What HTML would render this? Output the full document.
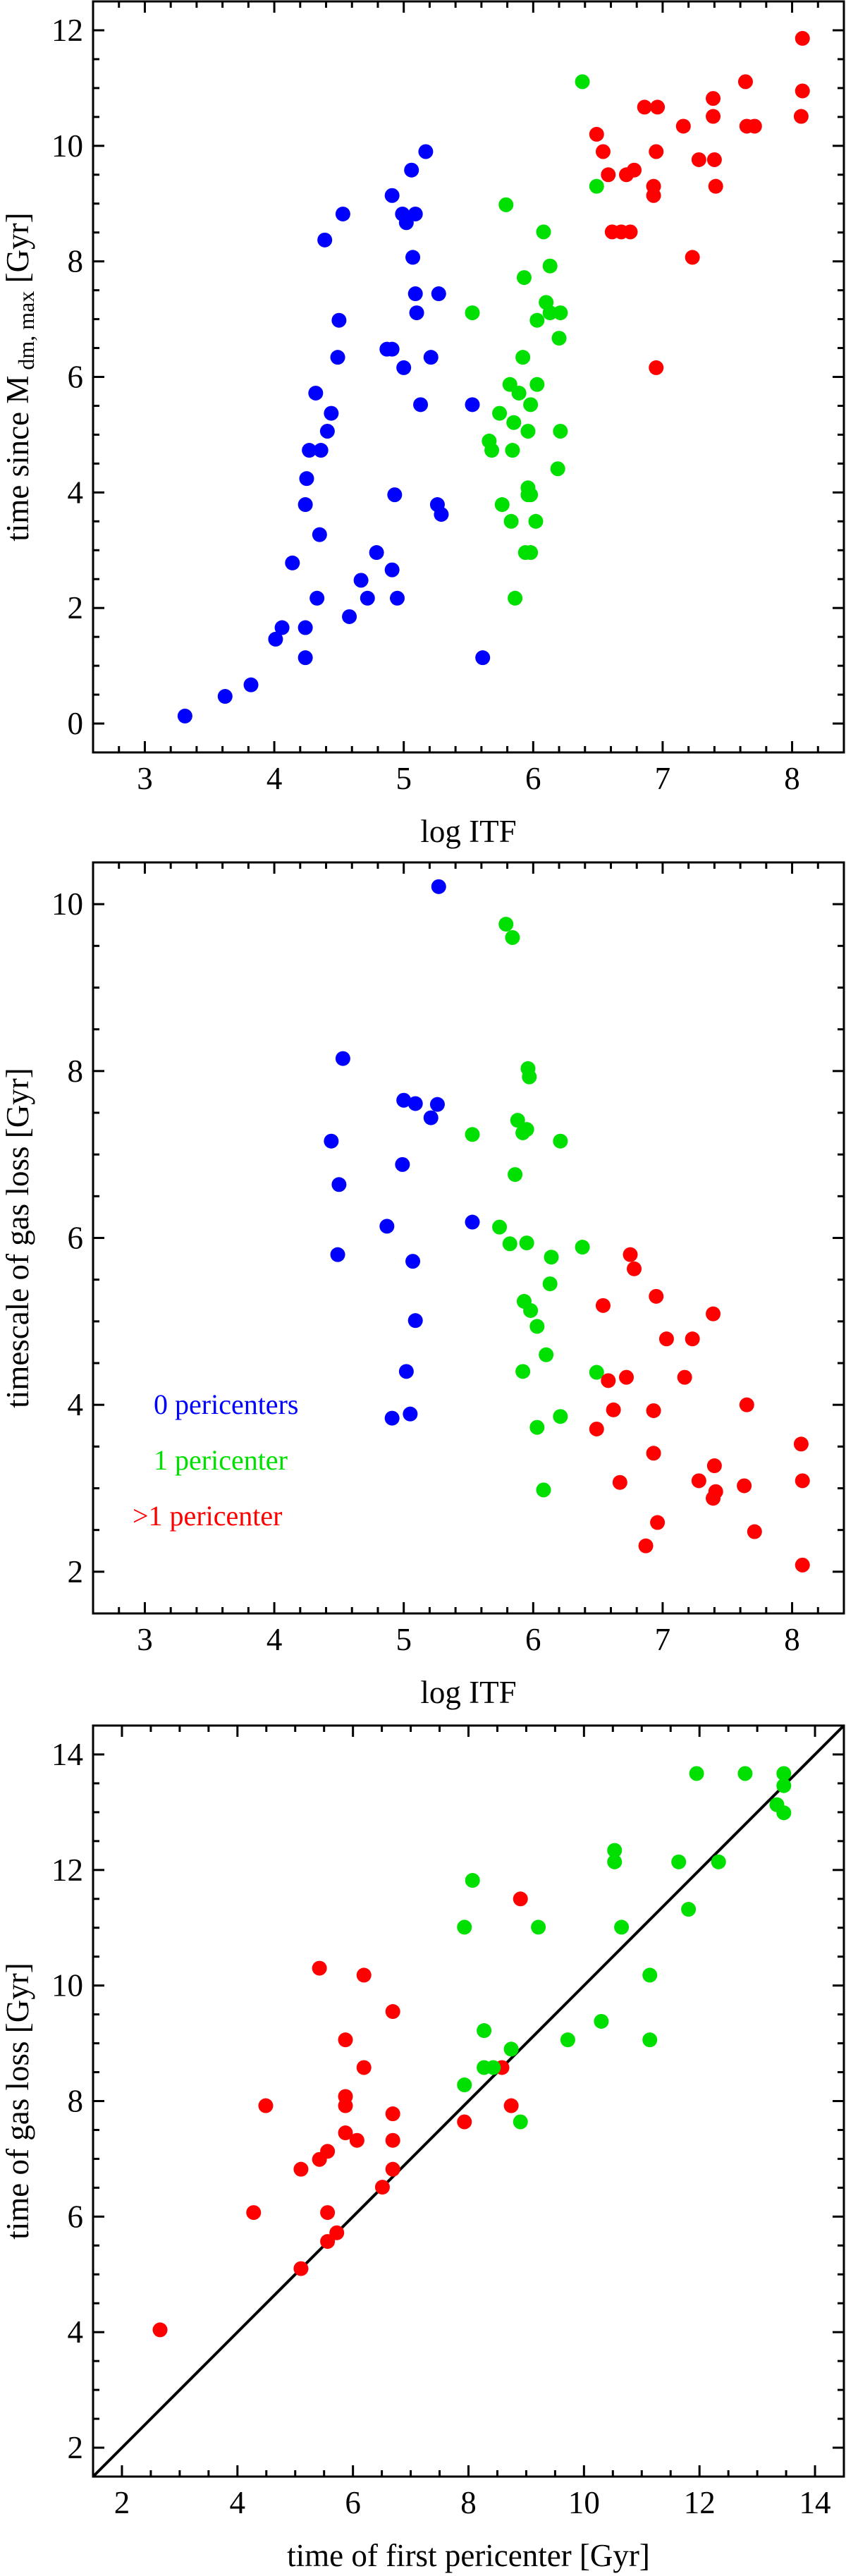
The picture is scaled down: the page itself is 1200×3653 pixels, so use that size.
<!DOCTYPE html>
<html><head><meta charset="utf-8">
<style>
html,body{margin:0;padding:0;background:#fff;}
svg{display:block;}
svg text{font-family:"Liberation Serif","Times New Roman",serif;}
</style></head>
<body>
<svg id="fig" width="1200" height="3653" viewBox="0 0 1200 3653" font-family="Liberation Serif, serif" xmlns="http://www.w3.org/2000/svg"></svg>
<script>
// ---- Panel 1 data: log ITF vs time since Mdm,max
const p1BlueX = [3.31,3.62,3.82,4.01,4.06,4.24,4.24,4.14,4.33,4.35,4.24,4.25,4.27,4.36,4.41,4.44,4.32,4.49,4.50,4.39,4.53,4.58,4.67,4.72,4.79,4.91,4.95,4.93,4.87,4.91,5.00,4.91,4.99,5.02,5.09,5.06,5.17,5.07,5.09,5.10,5.13,5.21,5.27,5.26,5.29,5.53,5.61];
const p1BlueY = [0.13,0.47,0.67,1.46,1.66,1.66,1.14,2.78,2.17,3.27,3.79,4.24,4.73,4.73,5.06,5.37,5.72,6.34,6.98,8.37,8.82,1.85,2.48,2.17,2.96,2.66,2.17,3.96,6.48,6.48,6.16,9.14,8.82,8.67,8.82,9.58,9.90,8.07,7.44,7.11,5.52,6.34,7.44,3.79,3.62,5.52,1.14];
const p1GreenX = [6.38,6.49,5.79,6.08,6.13,5.93,5.53,6.10,6.13,6.21,6.03,6.20,5.92,5.82,5.89,6.03,5.98,5.74,5.85,5.96,6.21,5.66,5.68,5.84,6.19,5.96,5.96,5.98,5.76,5.83,6.02,5.94,5.98,5.86];
const p1GreenY = [11.11,9.30,8.98,8.51,7.92,7.72,7.11,7.29,7.11,7.11,6.98,6.67,6.34,5.87,5.72,5.87,5.52,5.37,5.21,5.06,5.06,4.89,4.73,4.73,4.41,4.08,3.96,3.96,3.79,3.50,3.50,2.96,2.96,2.17];
const p1RedX = [8.08,8.08,8.07,7.64,7.39,7.39,6.86,6.96,7.16,7.65,7.71,6.49,6.54,6.95,6.58,6.72,6.78,7.28,7.40,6.93,6.93,7.41,6.61,6.68,6.75,7.23,6.95];
const p1RedY = [11.86,10.95,10.51,11.11,10.82,10.51,10.67,10.67,10.34,10.34,10.34,10.20,9.90,9.90,9.50,9.50,9.58,9.76,9.76,9.30,9.14,9.30,8.51,8.51,8.51,8.07,6.16];
const p1XTicks = [3,4,5,6,7,8];
const p1YTicks = [0,2,4,6,8,10,12];

// ---- Panel 2 data: log ITF vs timescale of gas loss
const p2BlueX = [5.27,4.53,5.00,5.09,5.26,5.21,4.44,4.99,4.50,4.87,5.53,4.49,5.07,5.09,5.02,5.05,4.91];
const p2BlueY = [10.21,8.15,7.65,7.61,7.60,7.44,7.16,6.88,6.64,6.14,6.19,5.80,5.72,5.01,4.40,3.89,3.84];
const p2GreenX = [5.79,5.84,5.96,5.97,5.88,5.95,5.92,5.53,6.21,5.86,5.74,5.82,5.95,6.38,6.14,6.13,5.93,5.98,6.03,6.10,5.92,6.49,6.21,6.03,6.08];
const p2GreenY = [9.76,9.60,8.03,7.93,7.41,7.30,7.26,7.24,7.16,6.76,6.13,5.93,5.94,5.89,5.77,5.45,5.24,5.13,4.94,4.60,4.40,4.39,3.86,3.73,2.98];
const p2RedX = [6.75,6.78,6.95,6.54,7.39,7.03,7.23,6.58,6.72,7.17,7.65,6.62,6.93,6.49,8.07,6.93,7.40,6.67,7.28,8.08,7.63,7.41,7.39,6.96,7.71,6.87,8.08];
const p2RedY = [5.80,5.63,5.30,5.19,5.09,4.79,4.79,4.29,4.33,4.33,4.00,3.94,3.93,3.71,3.53,3.42,3.27,3.07,3.09,3.09,3.03,2.96,2.88,2.59,2.48,2.31,2.08];
const p2XTicks = [3,4,5,6,7,8];
const p2YTicks = [2,4,6,8,10];

// ---- Panel 3 data: time of first pericenter vs time of gas loss
const p3RedX = [2.66,4.28,4.49,5.10,5.10,5.42,5.42,5.56,5.56,5.56,5.72,5.87,5.87,5.87,5.87,6.07,6.19,6.19,6.51,6.69,6.69,6.69,6.69,7.93,8.58,8.74,8.90];
const p3RedY = [4.04,6.07,7.92,5.10,6.82,10.30,6.99,7.13,6.07,5.57,5.72,9.06,8.08,7.92,7.45,7.32,10.18,8.58,6.51,9.55,7.78,7.32,6.82,7.64,8.58,7.92,11.50];
const p3GreenX = [7.93,8.07,7.93,8.27,8.27,8.43,8.74,8.90,9.21,9.72,10.30,10.53,10.53,10.65,11.14,11.14,11.64,11.81,11.95,12.33,12.79,13.34,13.46,13.46,13.46];
const p3GreenY = [11.01,11.82,8.28,9.22,8.58,8.58,8.90,7.64,11.01,9.06,9.38,12.34,12.14,11.01,10.18,9.06,12.14,11.32,13.67,12.14,13.67,13.13,13.67,13.46,12.99];
const p3XTicks = [2,4,6,8,10,12,14];
const p3YTicks = [2,4,6,8,10,12,14];

const NS = "http://www.w3.org/2000/svg";
const svg = document.getElementById('fig');
const L = 132, R = 1197, H = 1065;
const FS = 45, DOT = 10.5;

function mk(tag, attrs, parent) {
  const e = document.createElementNS(NS, tag);
  for (const k in attrs) e.setAttribute(k, attrs[k]);
  (parent || svg).appendChild(e);
  return e;
}

function panel(name, top, x0, x1, y0, y1, xTicks, yTicks, xMinor, yMinor) {
  const g = mk('g', {});
  
  
  const bottom = top + H;
  const sx = v => L + (v - x0) / (x1 - x0) * (R - L);
  const sy = v => bottom - (v - y0) / (y1 - y0) * H;
  const tg = mk('g', {stroke: '#000', 'stroke-width': 3}, g);
  
  
  const eps = 1e-6;
  for (let v = Math.ceil(x0 / xMinor) * xMinor; v <= x1 + eps; v += xMinor) {
    const major = xTicks.some(t => Math.abs(t - v) < eps);
    const len = major ? 16 : 9;
    const x = sx(v);
    mk('line', {x1: x, x2: x, y1: bottom, y2: bottom - len}, tg);
    mk('line', {x1: x, x2: x, y1: top, y2: top + len}, tg);
  }
  for (let v = Math.ceil(y0 / yMinor) * yMinor; v <= y1 + eps; v += yMinor) {
    const major = yTicks.some(t => Math.abs(t - v) < eps);
    const len = major ? 16 : 9;
    const y = sy(v);
    mk('line', {x1: L, x2: L + len, y1: y, y2: y}, tg);
    mk('line', {x1: R, x2: R - len, y1: y, y2: y}, tg);
  }
  xTicks.forEach(t => {
    const tx = mk('text', {x: sx(t), y: bottom + 52, 'text-anchor': 'middle', 'font-size': FS}, g);
    
    
    tx.textContent = t;
  });
  yTicks.forEach(t => {
    const ty = mk('text', {x: 118, y: sy(t) + 15, 'text-anchor': 'end', 'font-size': FS}, g);
    
    
    ty.textContent = t;
  });
  return {g, sx, sy, top, bottom};
}

function dots(p, xs, ys, color, name, r) {
  const dg = mk('g', {fill: color}, p.g);
  
  
  xs.forEach((x, i) => {
    const c = mk('circle', {cx: p.sx(x), cy: p.sy(ys[i]), r: r}, dg);
    
    
  });
}

function frame(p) {
  const f = mk('rect', {x: L, y: p.top, width: R - L, height: H, fill: 'none', stroke: '#000', 'stroke-width': 3}, p.g);
  
  
}

function xlabel(p, txt) {
  const t = mk('text', {x: (L + R) / 2, y: p.bottom + 127, 'text-anchor': 'middle', 'font-size': FS}, p.g);
  
  
  t.textContent = txt;
  return t;
}
function ylabel(p, txt) {
  const cy = (p.top + p.bottom) / 2;
  const t = mk('text', {x: 40, y: cy, 'text-anchor': 'middle', 'font-size': FS, transform: 'rotate(-90 40 ' + cy + ')'}, p.g);
  
  
  t.textContent = txt;
  return t;
}

// Panel 1
const P1 = panel('panel-itf-vs-time-since-max', 2, 2.6, 8.4, -0.5, 12.5, p1XTicks, p1YTicks, 0.2, 0.5);
dots(P1, p1BlueX, p1BlueY, '#0000ff', 'series-0-pericenters', DOT);
dots(P1, p1GreenX, p1GreenY, '#00e000', 'series-1-pericenter', DOT);
dots(P1, p1RedX, p1RedY, '#ff0000', 'series-gt1-pericenter', DOT);
frame(P1);
xlabel(P1, 'log ITF');
const yl1 = ylabel(P1, '');
yl1.innerHTML = 'time since M<tspan font-size="32" dy="8"> dm, max</tspan><tspan dy="-8"> [Gyr]</tspan>';

// Panel 2
const P2 = panel('panel-itf-vs-gas-loss-timescale', 1223, 2.6, 8.4, 1.5, 10.5, p2XTicks, p2YTicks, 0.2, 0.5);
dots(P2, p2BlueX, p2BlueY, '#0000ff', 'series-0-pericenters', DOT);
dots(P2, p2GreenX, p2GreenY, '#00e000', 'series-1-pericenter', DOT);
dots(P2, p2RedX, p2RedY, '#ff0000', 'series-gt1-pericenter', DOT);
frame(P2);
xlabel(P2, 'log ITF');
ylabel(P2, 'timescale of gas loss [Gyr]');
const legendItems = [['0 pericenters', '#0000ff', 218, 2005], ['1 pericenter', '#00e000', 218, 2084], ['>1 pericenter', '#ff0000', 188, 2163]];
legendItems.forEach(it => {
  const t = mk('text', {x: it[2], y: it[3], 'font-size': 40, fill: it[1]}, P2.g);
  
  
  t.textContent = it[0];
});

// Panel 3
const P3 = panel('panel-pericenter-vs-gas-loss-time', 2447, 1.5, 14.5, 1.5, 14.5, p3XTicks, p3YTicks, 0.5, 0.5);
const diag = mk('line', {x1: P3.sx(1.5), y1: P3.sy(1.5), x2: P3.sx(14.5), y2: P3.sy(14.5), stroke: '#000', 'stroke-width': 4}, P3.g);


dots(P3, p3RedX, p3RedY, '#ff0000', 'series-gt1-pericenter', DOT);
dots(P3, p3GreenX, p3GreenY, '#00e000', 'series-1-pericenter', DOT);
frame(P3);
xlabel(P3, 'time of first pericenter [Gyr]');
ylabel(P3, 'time of gas loss [Gyr]');
</script>
</body></html>
